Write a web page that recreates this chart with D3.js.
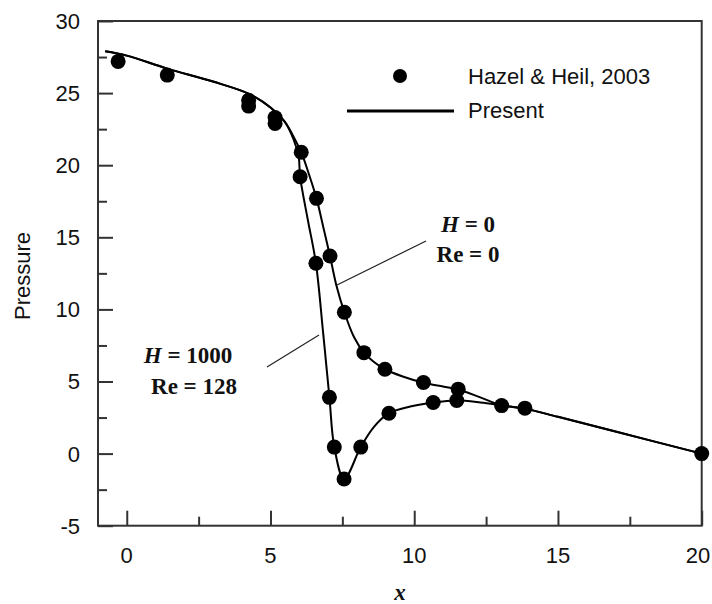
<!DOCTYPE html>
<html>
<head>
<meta charset="utf-8">
<script src="https://d3js.org/d3.v7.min.js"></script>
<style>
    body { margin: 0; background: #fff; }
    .tick-label { font-family: "Liberation Sans", Arial, sans-serif; font-size: 22px; fill: #111; }
    .note { font-family: "Liberation Serif", "Times New Roman", serif; font-size: 23px; font-weight: bold; fill: #111; }
</style>
</head>
<body>
<div id="chart"></div>
<script>

// tick values
var xMajor = [0, 5, 10, 15, 20];
var xMinor = [2.5, 7.5, 12.5, 17.5];
var yMajor = [-5, 0, 5, 10, 15, 20, 25, 30];
var yMinor = [-2.5, 2.5, 7.5, 12.5, 17.5, 22.5, 27.5];

// Present, H = 0, Re = 0
var curveH0X = [-0.75, 0, 1.4, 3, 4.25, 5.0, 5.5, 5.9, 6.07, 6.35, 6.6, 6.85, 7.07, 7.3, 7.57, 7.9, 8.25, 8.6, 8.98, 9.6, 10.3, 11, 11.53, 12.3, 13.04, 13.85, 15, 17, 20];
var curveH0Y = [27.9, 27.6, 26.7, 25.8, 24.95, 24.0, 23.0, 21.6, 20.9, 19.3, 17.7, 15.6, 13.7, 11.6, 9.8, 8.1, 7.0, 6.35, 5.85, 5.35, 4.93, 4.65, 4.45, 3.9, 3.35, 3.12, 2.55, 1.53, 0];

// Present, H = 1000, Re = 128
var curveH1000X = [-0.75, 0, 1.4, 3, 4.25, 5.0, 5.5, 5.8, 5.98, 6.03, 6.3, 6.58, 6.83, 7.05, 7.22, 7.56, 8.14, 8.6, 9.12, 9.86, 10.66, 11.48, 12.3, 13.04, 13.85, 15, 17, 20];
var curveH1000Y = [27.9, 27.6, 26.7, 25.8, 24.95, 24.0, 23.0, 21.8, 20.6, 19.2, 16.2, 13.2, 8.4, 3.9, 0.45, -1.76, 0.45, 1.85, 2.8, 3.26, 3.54, 3.68, 3.55, 3.35, 3.12, 2.55, 1.53, 0];

// Hazel & Heil, 2003 points
var dotsX = [-0.3, 1.41, 4.24, 4.24, 5.16, 5.16, 6.07, 6.6, 7.07, 7.57, 8.25, 8.98, 10.32, 11.53,
             6.03, 6.58, 7.05, 7.22, 7.56, 8.14, 9.12, 10.66, 11.48, 13.04, 13.85, 20];
var dotsY = [27.2, 26.25, 24.5, 24.1, 23.3, 22.9, 20.9, 17.7, 13.7, 9.8, 7.0, 5.85, 4.93, 4.47,
             19.2, 13.2, 3.9, 0.45, -1.76, 0.45, 2.8, 3.54, 3.68, 3.33, 3.15, 0];

var width = 712, height = 604;
var plotL = 98, plotR = 701.7, plotT = 21, plotB = 525.7;

var svg = d3.select("#chart").append("svg")
    .attr("width", width)
    .attr("height", height);

var x = d3.scaleLinear().domain([-1, 20]).range([plotL, plotR]);
var y = d3.scaleLinear().domain([-5, 30]).range([plotB, plotT]);

// frame
svg.append("rect")
    .attr("x", plotL).attr("y", plotT)
    .attr("width", plotR - plotL).attr("height", plotB - plotT)
    .attr("fill", "none")
    .attr("stroke", "#333")
    .attr("stroke-width", 2);

// x ticks, drawn inward
svg.append("g").attr("transform", "translate(0," + plotB + ")")
    .call(d3.axisBottom(x).tickValues(xMajor).tickSize(-15).tickFormat(""))
    .call(function(g) { g.select(".domain").remove(); })
    .selectAll("line").attr("stroke", "#333").attr("stroke-width", 2);
svg.append("g").attr("transform", "translate(0," + plotB + ")")
    .call(d3.axisBottom(x).tickValues(xMinor).tickSize(-9).tickFormat(""))
    .call(function(g) { g.select(".domain").remove(); })
    .selectAll("line").attr("stroke", "#333").attr("stroke-width", 2);

// y ticks
svg.append("g").attr("transform", "translate(" + plotL + ",0)")
    .call(d3.axisLeft(y).tickValues(yMajor).tickSize(-15).tickFormat(""))
    .call(function(g) { g.select(".domain").remove(); })
    .selectAll("line").attr("stroke", "#333").attr("stroke-width", 2);
svg.append("g").attr("transform", "translate(" + plotL + ",0)")
    .call(d3.axisLeft(y).tickValues(yMinor).tickSize(-9).tickFormat(""))
    .call(function(g) { g.select(".domain").remove(); })
    .selectAll("line").attr("stroke", "#333").attr("stroke-width", 2);

// tick labels (last one kept inside the page)
svg.selectAll(".xl")
    .data(xMajor)
    .enter().append("text")
    .attr("class", "tick-label")
    .attr("x", function(d) { return Math.min(x(d), 698); })
    .attr("y", 563)
    .attr("text-anchor", "middle")
    .text(function(d) { return d; });

svg.selectAll(".yl")
    .data(yMajor)
    .enter().append("text")
    .attr("class", "tick-label")
    .attr("x", 80)
    .attr("y", function(d) { return y(d); })
    .attr("dy", "0.36em")
    .attr("text-anchor", "end")
    .text(function(d) { return d; });

// axis titles
svg.append("text")
    .attr("class", "tick-label")
    .attr("transform", "translate(30,276) rotate(-90)")
    .attr("text-anchor", "middle")
    .text("Pressure");

svg.append("text")
    .attr("class", "note")
    .attr("x", 400)
    .attr("y", 600)
    .attr("text-anchor", "middle")
    .style("font-style", "italic")
    .text("x");

// curves
var line = d3.line()
    .x(function(d) { return x(d[0]); })
    .y(function(d) { return y(d[1]); })
    .curve(d3.curveCatmullRom.alpha(0.5));

svg.append("path")
    .datum(d3.zip(curveH0X, curveH0Y))
    .attr("d", line)
    .attr("fill", "none")
    .attr("stroke", "#000")
    .attr("stroke-width", 2);

svg.append("path")
    .datum(d3.zip(curveH1000X, curveH1000Y))
    .attr("d", line)
    .attr("fill", "none")
    .attr("stroke", "#000")
    .attr("stroke-width", 2);

// dots
svg.selectAll(".dot")
    .data(d3.zip(dotsX, dotsY))
    .enter().append("circle")
    .attr("cx", function(d) { return x(d[0]); })
    .attr("cy", function(d) { return y(d[1]); })
    .attr("r", 7.5)
    .attr("fill", "#000");

// legend
svg.append("circle")
    .attr("cx", 400).attr("cy", 76).attr("r", 7).attr("fill", "#000");
svg.append("text")
    .attr("class", "tick-label")
    .attr("x", 468).attr("y", 84)
    .text("Hazel & Heil, 2003");
svg.append("line")
    .attr("x1", 347).attr("x2", 454)
    .attr("y1", 111).attr("y2", 111)
    .attr("stroke", "#000").attr("stroke-width", 3);
svg.append("text")
    .attr("class", "tick-label")
    .attr("x", 468).attr("y", 118)
    .text("Present");

// annotations
var n1 = svg.append("text").attr("class", "note").attr("x", 468).attr("y", 232).attr("text-anchor", "middle");
n1.append("tspan").style("font-style", "italic").text("H");
n1.append("tspan").text(" = 0");
svg.append("text").attr("class", "note").attr("x", 468).attr("y", 262).attr("text-anchor", "middle").text("Re = 0");

var n2 = svg.append("text").attr("class", "note").attr("x", 188).attr("y", 363).attr("text-anchor", "middle");
n2.append("tspan").style("font-style", "italic").text("H");
n2.append("tspan").text(" = 1000");
svg.append("text").attr("class", "note").attr("x", 194).attr("y", 394).attr("text-anchor", "middle").text("Re = 128");

// leader lines
svg.append("line")
    .attr("x1", 426).attr("y1", 241).attr("x2", 337).attr("y2", 285)
    .attr("stroke", "#222").attr("stroke-width", 1.2);
svg.append("line")
    .attr("x1", 267).attr("y1", 367).attr("x2", 319).attr("y2", 335)
    .attr("stroke", "#222").attr("stroke-width", 1.2);

</script>
</body>
</html>
